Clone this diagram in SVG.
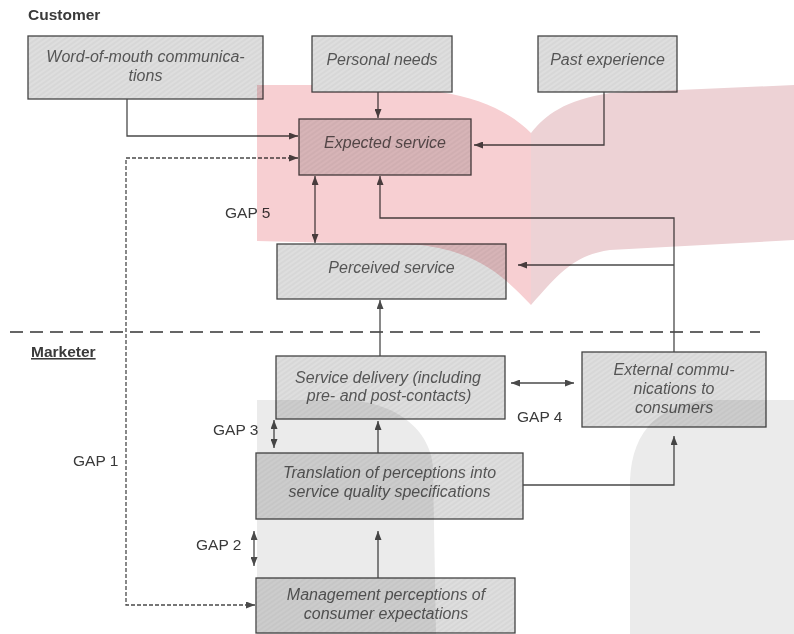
<svg xmlns="http://www.w3.org/2000/svg" width="794" height="634" viewBox="0 0 794 634">
<defs>
<pattern id="hatch" width="4" height="4" patternUnits="userSpaceOnUse" patternTransform="rotate(-35)">
<rect width="4" height="4" fill="#dedede"/>
<line x1="0" y1="1" x2="4" y2="1" stroke="#d0d0d0" stroke-width="1"/>
</pattern>
<marker id="ah" viewBox="0 0 9 7" markerWidth="9" markerHeight="7" refX="9" refY="3.5" orient="auto-start-reverse" markerUnits="userSpaceOnUse">
<path d="M0,0 L9,3.5 L0,7 z" fill="#4a4a4a"/>
</marker>
<style>
.box{fill:url(#hatch);stroke:#444;stroke-width:1.3}
.bt{font-family:"Liberation Sans",Arial,sans-serif;font-style:italic;font-size:16px;fill:#555;text-anchor:middle}
.lbl{font-family:"Liberation Sans",Arial,sans-serif;font-size:15.5px;fill:#3a3a3a}
.hd{font-family:"Liberation Sans",Arial,sans-serif;font-size:15.5px;font-weight:bold;fill:#3a3a3a}
.c{fill:none;stroke:#4a4a4a;stroke-width:1.3}
.d{stroke-dasharray:4,2}
.ov{mix-blend-mode:multiply}
</style>
</defs>
<rect width="794" height="634" fill="#fff"/>

<text class="hd" x="28" y="20">Customer</text>
<text class="hd" x="31" y="357" text-decoration="underline">Marketer</text>
<line x1="10" y1="332" x2="760" y2="332" stroke="#333" stroke-width="1.3" stroke-dasharray="13,7"/>

<g id="wom"><rect class="box" x="28" y="36" width="235" height="63"/>
<text class="bt" x="145.5" y="62">Word-of-mouth communica-</text><text class="bt" x="145.5" y="81">tions</text></g>
<g id="personal"><rect class="box" x="312" y="36" width="140" height="56"/>
<text class="bt" x="382" y="65">Personal needs</text></g>
<g id="past"><rect class="box" x="538" y="36" width="139" height="56"/>
<text class="bt" x="607.5" y="65">Past experience</text></g>
<g id="expected"><rect class="box" x="299" y="119" width="172" height="56"/>
<text class="bt" x="385" y="148">Expected service</text></g>
<g id="perceived"><rect class="box" x="277" y="244" width="229" height="55"/>
<text class="bt" x="391.5" y="273">Perceived service</text></g>
<g id="delivery"><rect class="box" x="276" y="356" width="229" height="63"/>
<text class="bt" x="388" y="383">Service delivery (including</text><text class="bt" x="389" y="401">pre- and post-contacts)</text></g>
<g id="external"><rect class="box" x="582" y="352" width="184" height="75"/>
<text class="bt" x="674" y="375">External commu-</text><text class="bt" x="674" y="394">nications to</text><text class="bt" x="674" y="413">consumers</text></g>
<g id="translation"><rect class="box" x="256" y="453" width="267" height="66"/>
<text class="bt" x="389.5" y="478">Translation of perceptions into</text><text class="bt" x="389.5" y="497">service quality specifications</text></g>
<g id="management"><rect class="box" x="256" y="578" width="259" height="55"/>
<text class="bt" x="386" y="600">Management perceptions of</text><text class="bt" x="386" y="619">consumer expectations</text></g>

<g id="connectors">
<path class="c" d="M127,99 V136 H298" marker-end="url(#ah)"/>
<path class="c d" d="M298,158 H126 V605 H255" marker-start="url(#ah)" marker-end="url(#ah)"/>
<path class="c" d="M378,92 V118" marker-end="url(#ah)"/>
<path class="c" d="M604,92 V145 H474" marker-end="url(#ah)"/>
<path class="c" d="M315,176 V243" marker-start="url(#ah)" marker-end="url(#ah)"/>
<path class="c" d="M674,352 V218 H380 V176" marker-end="url(#ah)"/>
<path class="c" d="M674,265 H518" marker-end="url(#ah)"/>
<path class="c" d="M380,356 V300" marker-end="url(#ah)"/>
<path class="c" d="M511,383 H574" marker-start="url(#ah)" marker-end="url(#ah)"/>
<path class="c" d="M274,420 V448" marker-start="url(#ah)" marker-end="url(#ah)"/>
<path class="c" d="M378,453 V421" marker-end="url(#ah)"/>
<path class="c" d="M523,485 H674 V436" marker-end="url(#ah)"/>
<path class="c" d="M254,531 V566" marker-start="url(#ah)" marker-end="url(#ah)"/>
<path class="c" d="M378,578 V531" marker-end="url(#ah)"/>
</g>

<text class="lbl" x="225" y="218">GAP 5</text>
<text class="lbl" x="517" y="422">GAP 4</text>
<text class="lbl" x="213" y="435">GAP 3</text>
<text class="lbl" x="196" y="550">GAP 2</text>
<text class="lbl" x="73" y="466">GAP 1</text>

<path class="ov" fill="#f7cfd2" d="M257,85 L312,85 L312,92 L440,92 C480,98 510,112 531,133 L531,305 C505,278 480,252 420,245 L257,241 Z"/>
<path class="ov" fill="#edd2d5" d="M531,133 C545,115 565,100 610,93 L794,85 L794,240 L610,250 C575,255 560,272 531,305 Z"/>
<path class="ov" fill="#ebebeb" d="M257,634 L257,400 L340,400 C395,400 432,430 433,470 L436,634 Z"/>
<path class="ov" fill="#ebebeb" d="M630,634 L630,480 C632,430 660,400 720,400 L794,400 L794,634 Z"/>
</svg>
